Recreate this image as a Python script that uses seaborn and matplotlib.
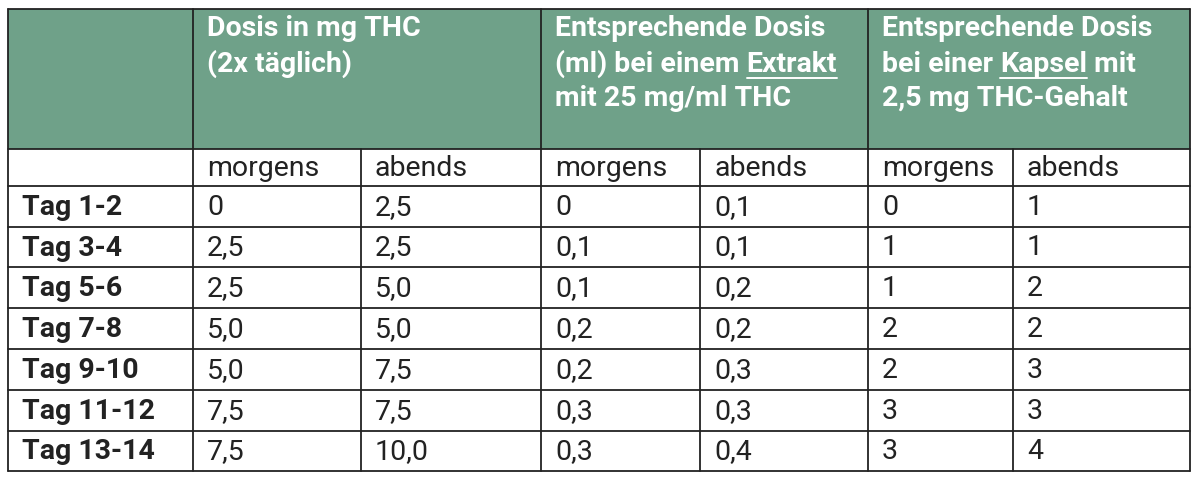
import matplotlib
matplotlib.use("Agg")
import matplotlib.pyplot as plt
import seaborn as sns
from matplotlib.patches import Rectangle

sns.set_theme(style="white")
plt.rcParams['font.family'] = ['Roboto', 'DejaVu Sans']

groups = [["Dosis in mg THC", "(2x täglich)"],
          ["Entsprechende Dosis", "(ml) bei einem |Extrakt", "mit 25 mg/ml THC"],
          ["Entsprechende Dosis", "bei einer |Kapsel| mit", "2,5 mg THC-Gehalt"]]
sub = ["morgens", "abends"]
days = ["Tag 1-2", "Tag 3-4", "Tag 5-6", "Tag 7-8", "Tag 9-10", "Tag 11-12", "Tag 13-14"]
mg_m = ["0", "2,5", "2,5", "5,0", "5,0", "7,5", "7,5"]
mg_a = ["2,5", "2,5", "5,0", "5,0", "7,5", "7,5", "10,0"]
ml_m = ["0", "0,1", "0,1", "0,2", "0,2", "0,3", "0,3"]
ml_a = ["0,1", "0,1", "0,2", "0,2", "0,3", "0,3", "0,4"]
k_m = ["0", "1", "1", "2", "2", "3", "3"]
k_a = ["1", "1", "2", "2", "3", "3", "4"]
cols = [mg_m, mg_a, ml_m, ml_a, k_m, k_a]

green = "#6fa189"
xs = [8, 193, 361, 541, 700, 868, 1013, 1190]
ys = [10, 150, 187, 228, 268, 309, 350, 391, 432, 472]

fig = plt.figure(figsize=(12, 4.81), dpi=100)
ax = fig.add_axes([0, 0, 1, 1])
ax.set_xlim(0, 1200); ax.set_ylim(481, 0); ax.axis("off")
ax.add_patch(Rectangle((xs[0], ys[0]), xs[-1]-xs[0], ys[1]-ys[0], color=green, lw=0))
lw = 1.3
for y in ys:
    ax.plot([xs[0], xs[-1]], [y, y], color="#222", lw=lw)
for i, x in enumerate(xs):
    if i in (2, 4, 6):
        ax.plot([x, x], [ys[1], ys[-1]], color="#222", lw=lw)
    else:
        ax.plot([x, x], [ys[0], ys[-1]], color="#222", lw=lw)

fig.canvas.draw()
r = fig.canvas.get_renderer()
fs = 20.5
for g, x0 in zip(groups, [xs[1], xs[3], xs[5]]):
    for li, line in enumerate(g):
        y = 29 + li * 35
        x = x0 + 14
        parts = line.split("|")
        for pi, p in enumerate(parts):
            if not p:
                continue
            t = ax.text(x, y, p, fontsize=fs, fontweight="bold", color="white", va="center", ha="left")
            bb = t.get_window_extent(r)
            w = bb.width
            if pi == 1:
                ax.plot([x, x + w], [y + 15, y + 15], color="white", lw=1.4)
            x += w
for j in range(6):
    ax.text(xs[j+1] + 14, (ys[1]+ys[2])/2, sub[j % 2], fontsize=fs, color="#222", va="center")
for i, d in enumerate(days):
    yc = (ys[i+2] + ys[i+3]) / 2
    ax.text(xs[0] + 14, yc, d, fontsize=fs, fontweight="bold", color="#222", va="center")
    for j, c in enumerate(cols):
        ax.text(xs[j+1] + 14, yc, c[i], fontsize=fs, color="#222", va="center")
fig.savefig("out.png", dpi=100)
